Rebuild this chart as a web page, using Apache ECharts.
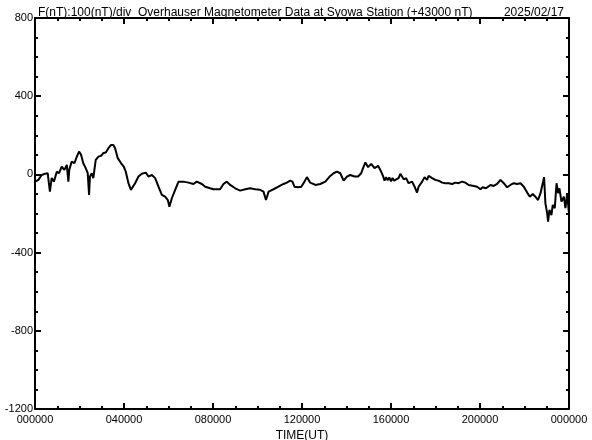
<!DOCTYPE html>
<html>
<head>
<meta charset="utf-8">
<script src="https://cdn.jsdelivr.net/npm/echarts@6/dist/echarts.min.js"></script>
<style>html,body{margin:0;padding:0;background:#fff}#c{width:592px;height:440px}</style>
</head>
<body>
<div id="c"></div>
<script>
// Time in hours UT, values in nT (relative to +43000 nT)
const times = [0,0.15,0.30,0.45,0.57,0.67,0.75,0.85,0.98,1.08,1.20,1.32,1.43,1.50,1.54,1.65,1.77,1.88,1.98,2.07,2.17,2.28,2.37,2.43,2.47,2.55,2.62,2.73,2.85,2.97,3.07,3.18,3.30,3.42,3.52,3.60,3.72,3.87,3.99,4.08,4.20,4.31,4.38,4.50,4.65,4.80,4.98,5.10,5.25,5.40,5.55,5.70,5.85,5.97,6.04,6.15,6.30,6.45,6.67,6.90,7.12,7.27,7.35,7.50,7.65,7.87,8.02,
8.10,8.32,8.47,8.62,8.77,9.00,9.22,9.45,9.67,9.90,10.12,10.27,10.38,10.50,10.72,10.94,11.17,11.32,11.47,11.57,11.66,11.82,11.97,12.11,12.22,12.37,12.60,12.82,13.05,13.27,13.42,13.57,13.72,13.87,14.02,14.17,14.36,14.52,14.66,14.77,14.85,14.97,15.11,15.26,15.42,15.52,15.64,15.71,15.78,15.85,15.92,16.00,16.07,16.14,16.19,
16.34,16.42,16.57,16.68,16.79,16.95,17.06,17.17,17.24,17.40,17.51,17.62,17.69,17.85,17.99,18.14,18.30,18.44,18.59,18.75,18.89,19.04,19.19,19.34,19.49,19.72,19.87,20.02,20.12,20.27,20.47,20.62,20.77,20.92,21.07,21.22,21.37,21.52,21.67,21.82,21.97,22.12,22.24,22.37,22.49,22.61,22.72,22.82,22.88,22.94,23.02,23.06,23.12,23.21,23.27,23.36,23.44,23.51,23.57,23.66,23.77,23.84,23.92,23.99];
const values = [-37,-28,-3,3,6,-88,-18,-37,14,6,40,23,49,-37,23,66,57,91,117,100,57,32,6,-105,-11,6,-19,74,91,95,109,112,134,151,151,134,83,57,40,14,-45,-79,-88,-45,-11,3,9,-11,-3,-19,-63,-105,-114,-131,-165,-122,-79,-37,-37,-42,-49,-37,-45,-49,-63,-71,-76,
-79,-76,-49,-37,-54,-71,-83,-76,-71,-76,-79,-88,-131,-88,-76,-63,-49,-42,-32,-37,-63,-66,-63,-37,-14,-42,-54,-49,-37,-8,6,14,6,-32,-11,-3,-11,-11,6,40,61,37,54,32,44,23,-8,-32,-14,-30,-16,-35,-18,-32,-22,
-19,3,-25,-19,-45,-37,-63,-93,-63,-37,-14,-28,-8,-19,-28,-32,-42,-45,-45,-49,-42,-45,-37,-42,-54,-59,-63,-76,-66,-71,-54,-59,-49,-28,-45,-66,-54,-45,-49,-45,-63,-93,-114,-100,-114,-131,-96,-45,-14,-148,-199,-242,-182,-208,-156,-173,-45,-96,-71,-139,-114,-173,-96,-191];
const xTickLabels = ['000000','040000','080000','120000','160000','200000','000000'];
const yTickLabels = {'800':'800','400':'400','0':'0','-400':'-400','-800':'-800','-1200':'-1200'};
const titleText = 'F(nT):100(nT)/div  Overhauser Magnetometer Data at Syowa Station (+43000 nT)';
const dateText = '2025/02/17';
const xName = 'TIME(UT)';

const font = 'Liberation Sans';
const seriesData = times.map((t, i) => [t, values[i]]);

const baseX = {
  type: 'value', min: 0, max: 24, interval: 4,
  axisLine: {show: true, onZero: false, lineStyle: {color: '#000', width: 2}},
  axisTick: {show: true, inside: true, length: 6, lineStyle: {color: '#000', width: 2}},
  minorTick: {show: true, splitNumber: 4, length: 3, lineStyle: {color: '#000', width: 2}},
  splitLine: {show: false}
};
const baseY = {
  type: 'value', min: -1200, max: 800, interval: 400,
  axisLine: {show: true, onZero: false, lineStyle: {color: '#000', width: 2}},
  axisTick: {show: true, inside: true, length: 6, lineStyle: {color: '#000', width: 2}},
  minorTick: {show: true, splitNumber: 4, length: 3, lineStyle: {color: '#000', width: 2}},
  splitLine: {show: false}
};

const chart = echarts.init(document.getElementById('c'), null, {renderer: 'canvas'});
chart.setOption({
  animation: false,
  backgroundColor: '#fff',
  title: [
    {text: titleText, left: 33, top: 2, textStyle: {fontFamily: font, fontSize: 12, fontWeight: 'normal', color: '#000'}},
    {text: dateText, right: 23, top: 2, textStyle: {fontFamily: font, fontSize: 12, fontWeight: 'normal', color: '#000'}}
  ],
  grid: {left: 35, right: 23, top: 18, bottom: 31, containLabel: false, outerBoundsMode: 'none'},
  xAxis: [
    Object.assign({}, baseX, {
      position: 'bottom', name: xName, nameLocation: 'middle', nameGap: 17,
      nameTextStyle: {fontFamily: font, fontSize: 12, color: '#000'},
      axisLabel: {show: true, margin: 5, color: '#000', fontFamily: font, fontSize: 11,
        formatter: v => xTickLabels[Math.round(v / 4)]}
    }),
    Object.assign({}, baseX, {position: 'top', axisLabel: {show: false}})
  ],
  yAxis: [
    Object.assign({}, baseY, {
      position: 'left',
      axisLabel: {show: true, margin: 2, color: '#000', fontFamily: font, fontSize: 11,
        formatter: v => yTickLabels[String(v)]}
    }),
    Object.assign({}, baseY, {position: 'right', axisLabel: {show: false}})
  ],
  series: [{
    type: 'line', data: seriesData, xAxisIndex: 0, yAxisIndex: 0,
    showSymbol: false, symbol: 'none',
    lineStyle: {color: '#000', width: 2}
  }]
});
</script>
</body>
</html>
